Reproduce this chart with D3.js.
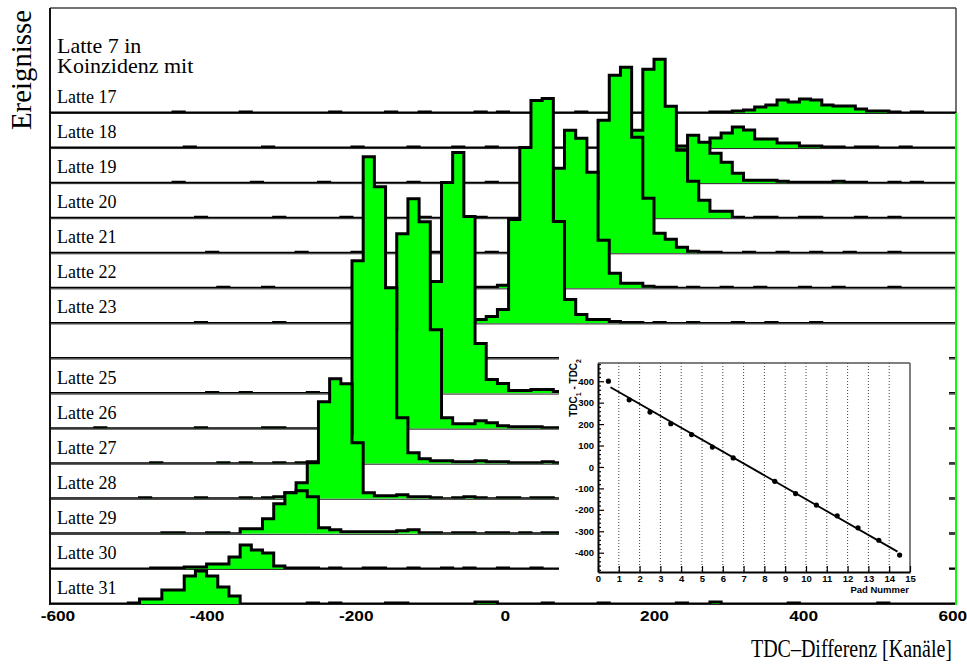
<!DOCTYPE html>
<html>
<head>
<meta charset="utf-8">
<script src="https://cdn.jsdelivr.net/npm/d3@7"></script>
<style>
  body { margin: 0; background: #fff; }
  svg { display: block; }
  .tick-main text { font-family: "Liberation Sans", Arial, sans-serif; font-weight: bold; font-size: 15px; fill: #000; }
  .inset text { font-family: "Liberation Sans", Arial, sans-serif; font-weight: bold; font-size: 9.5px; fill: #000; }
  .serif { font-family: "Liberation Serif", "Times New Roman", serif; fill: #000; }
</style>
</head>
<body>
<svg id="chart" width="967" height="671"></svg>
<script>
// ---- histogram binning (TDC difference, channels) ----
const binStart = -610;
const binWidth = 15;
const binCount = 81;
const xTicks = [-600, -400, -200, 0, 200, 400, 600];

// strips: Latte 7 in coincidence with Latte 17..31 (24 has no entries)
const latten = [17, 18, 19, 20, 21, 22, 23, 24, 25, 26, 27, 28, 29, 30, 31];
const firstBins = [10, 10, 10, 10, 10, 10, 10, 0, 10, 2, 5, 5, 5, 5, 5];

const counts17 = [0,1,0,0,0,0,0,1,0,0, 0,0,0,0,0,1,0,0,0,0, 1,0,0,1,0,0,0,0,
  1,0,1,0,0,0,0,0,0,1,0,0,0,0,0,0,0,0,0,0,0,
  1,1,2,3,6,8,13,11,14,13,8,7,7,4,2,2,1,0,1];
const counts18 = [0,0,1,0,0,0,0,0,0,1, 0,0,0,0,0,0,0,1,0,0, 0,0,1,0,0,0,1,0,0,1, 0,0,0,0,0,0,0,0,0,0, 0,0,0,0,0,
  1,2,3,5,10,15,21,18,9,9,5,5,2,2,1,1,0,1,1,0,0,1];
const counts19 = [0,1,0,0,0,0,0,0,1,0, 0,0,0,0,1,0,0,0,0,0, 0,0,1,0,0,0,0,0,0,1, 0,0,0,0,0,0,0,0,0,0, 0,0,0,
  2,5,12,25,48,41,30,21,10,3,3,3,2,1,1,1,1,2,1,1,0,0,1,0,1];
const counts20 = [0,0,0,1,0,0,0,0,0,0, 1,0,0,0,0,0,1,0,0,0, 0,0,0,1,0,0,0,0,1,0, 0,0,0,0,0,0,0,0,
  3,10,25,55,88,149,159,112,68,37,18,7,7,1,0,1,1,0,0,1,1,0,0,0,1,0,0,1];
const counts21 = [0,0,0,0,1,0,0,0,0,0, 0,0,1,0,0,0,0,1,0,0, 0,0,0,0,1,0,0,0,0,1, 0,0,0,0,0,
  3,8,20,55,133,178,186,116,55,20,14,6,2,1,1,0,0,1,0,0,1,0,0,1,0,0,1,0,0,0,1];
const counts22 = [0,0,0,0,0,1,0,0,0,1, 0,0,0,0,0,0,0,1,0,0, 0,0,0,0,1,0,0,0,
  1,1,3,4,8,18,50,120,158,150,116,48,15,5,5,2,1,1,0,1,0,0,1,0,0,1,0,0,0,1,0,0,1,0,0,0,0,1];
const counts23 = [0,0,0,1,0,0,0,0,0,0, 1,0,0,0,0,0,0,1,0,0, 0,1,0,0,0,0,1,0,
  4,7,14,104,176,223,225,102,24,9,4,4,2,1,1,0,1,0,0,1,0,0,0,1,0,0,1,0,0,0,1,0,0];
const counts24 = [];
const counts25 = [0,0,0,0,1,0,0,1,0,0, 0,0,0,1,0,0,0,0,0,1,
  5,15,30,60,112,211,241,177,50,14,10,3,3,4,4,2,2,2,1,1];
const counts26 = [0,0,1,0,0,0,0,0,0,0, 0,1,0,0,0,0,0,1,1,0, 0,0,0,0,0,
  2,5,25,100,195,230,207,99,11,5,5,8,6,3,2,2,2,1,1,1,1];
const counts27 = [0,0,0,0,1,0,0,0,0,0, 1,0,1,0,0,
  1,0,1,2,3,8,30,203,307,277,176,46,11,5,3,3,2,2,3,2,2,1,1,1,2,1,1,1,1];
const counts28 = [0,0,0,1,0,0,0,0,1,0,0,0,
  1,0,1,2,6,16,36,97,120,115,56,6,3,3,4,2,2,
  1,0,1,2,1,0,1,1,0,1,1,0,1,1,0];
const counts29 = [0,0,0,0,0,1,1,0,0,1,1,0,
  5,5,15,30,41,43,37,6,4,2,2,2,2,2,3,4,1,1,0,1,1,0,1,1,0,1,0,1,1,0,1,0];
const counts30 = [0,0,0,0,1,1,1,2,2,5, 5,12,24,19,16,3,1,1,1,0, 1,0,0,1,1,0,0,1,0,0, 1,0,1,0,0,1,0,0,1,0];
const counts31 = [0,0,1,5,5,14,14,28,33,28, 17,8,0,0,0,0,0,0,1,0, 1,0,0,0,0,1,1,0,0,0,
  0,0,0,2,2,0,0,0,0,1, 0,0,0,0,1,0,0,0,0,0, 0,1,0,0,2,0,0,0,0,0, 0,1,0,0,0,0,0,0,0,1];
const countsByLatte = [counts17, counts18, counts19, counts20, counts21, counts22, counts23,
  counts24, counts25, counts26, counts27, counts28, counts29, counts30, counts31];

// ---- inset: mean TDC difference per pad ----
const padNumbers = [0.5, 1.5, 2.5, 3.5, 4.5, 5.5, 6.5, 8.5, 9.5, 10.5, 11.5, 12.5, 13.5, 14.5];
const tdcDiffs = [400, 313, 256, 202, 151, 93, 42, -67, -124, -178, -228, -284, -342, -411];
const fitPads = [0.6, 14.4];
const fitDiffs = [372, -395];
const insetYTicks = [-400, -300, -200, -100, 0, 100, 200, 300, 400];
const insetXTicks = [0, 1, 2, 3, 4, 5, 6, 7, 8, 9, 10, 11, 12, 13, 14, 15];

const svg = d3.select('#chart');
const defs = svg.append('defs');

const x = d3.scaleLinear().domain([binStart, binStart + binWidth * binCount]).range([50, 956]);
const stripY = d3.scaleLinear().domain([17, 31]).range([113, 604]);
const yCount = d3.scaleLinear().domain([0, 100]).range([0, 100]);
const green = '#00ff00';

function binsFor(first, counts) {
    return d3.range(binCount + 1).map(i => {
        const j = Math.min(i, binCount - 1) - first;
        const n = (j >= 0 && j < counts.length) ? counts[j] : 0;
        return {x: binStart + i * binWidth, n: n};
    });
}

// frame of the top pad
svg.append('line').attr('x1', 50).attr('x2', 956).attr('y1', 8).attr('y2', 8)
    .attr('stroke', '#444').attr('stroke-width', 1.5);
svg.append('line').attr('x1', 956).attr('x2', 956).attr('y1', 8).attr('y2', stripY(17))
    .attr('stroke', '#444').attr('stroke-width', 1.5);
svg.append('line').attr('x1', 50).attr('x2', 50).attr('y1', 8).attr('y2', stripY(31) + 1)
    .attr('stroke', '#111').attr('stroke-width', 2);

// strips, top to bottom (lower pads drawn over upper ones)
latten.forEach((latte, k) => {
    const base = stripY(latte);
    const bins = binsFor(firstBins[k], countsByLatte[k]);

    defs.append('clipPath').attr('id', 'clip' + latte)
        .append('rect').attr('x', 50).attr('y', 0).attr('width', 906).attr('height', base);

    const area = d3.area().curve(d3.curveStepAfter)
        .x(d => x(d.x)).y0(base).y1(d => base - yCount(d.n));
    const line = d3.line().curve(d3.curveStepAfter)
        .x(d => x(d.x)).y(d => base - yCount(d.n));

    const g = svg.append('g').attr('clip-path', `url(#clip${latte})`);
    g.append('path').attr('d', area(bins)).attr('fill', green);
    g.append('path').attr('d', line(bins)).attr('fill', 'none')
        .attr('stroke', '#000').attr('stroke-width', 3);

    svg.append('line').attr('x1', 50).attr('x2', 956)
        .attr('y1', base + 0.5).attr('y2', base + 0.5)
        .attr('stroke', '#222').attr('stroke-width', 1);

    if (countsByLatte[k].length) {
        svg.append('text').attr('class', 'serif')
            .attr('x', 57).attr('y', base - 10)
            .style('font-size', '18px')
            .text('Latte ' + latte);
    }
});

// right pad edge
svg.append('line').attr('x1', 956).attr('x2', 956).attr('y1', stripY(17)).attr('y2', stripY(31) + 1)
    .attr('stroke', green).attr('stroke-width', 2);

svg.append('text').attr('class', 'serif').attr('x', 57).attr('y', 53)
    .style('font-size', '22px').text('Latte 7 in');
svg.append('text').attr('class', 'serif').attr('x', 57).attr('y', 73)
    .style('font-size', '22px').text('Koinzidenz mit');

// ---- inset pad ----
const inset = svg.append('g').attr('class', 'inset');
inset.append('rect').attr('x', 559).attr('y', 340).attr('width', 390).attr('height', 260).attr('fill', '#fff');

const ix = d3.scaleLinear().domain([0, 15]).range([598, 910]);
const iy = d3.scaleLinear().domain([-490, 485]).range([572, 363]);

inset.selectAll('line.grid').data(insetXTicks.slice(1, -1)).join('line')
    .attr('class', 'grid')
    .attr('x1', d => ix(d)).attr('x2', d => ix(d))
    .attr('y1', iy.range()[1]).attr('y2', iy.range()[0])
    .attr('stroke', '#444').attr('stroke-width', 1).attr('stroke-dasharray', '1,2');

inset.append('line').attr('x1', ix(0)).attr('x2', ix(15)).attr('y1', iy.range()[1]).attr('y2', iy.range()[1])
    .attr('stroke', '#555').attr('stroke-width', 1.5);
inset.append('line').attr('x1', ix(15)).attr('x2', ix(15)).attr('y1', iy.range()[1]).attr('y2', iy.range()[0])
    .attr('stroke', '#555').attr('stroke-width', 1.5);

const minorY = d3.range(-480, 481, 20).filter(v => v % 100 !== 0);
inset.append('g').attr('transform', `translate(${ix(0)},0)`)
    .call(d3.axisLeft(iy).tickValues(minorY).tickSize(-3).tickSizeOuter(0).tickFormat(''))
    .call(g => g.select('.domain').remove());
inset.append('g').attr('transform', `translate(${ix(0)},0)`)
    .call(d3.axisLeft(iy).tickValues(insetYTicks).tickSize(-6).tickSizeOuter(0).tickPadding(4)
        .tickFormat(d => String(d)))
    .call(g => g.select('.domain').attr('stroke-width', 2));
inset.append('g').attr('transform', `translate(0,${iy.range()[0]})`)
    .call(d3.axisBottom(ix).tickValues(insetXTicks).tickSize(-6).tickSizeOuter(0).tickPadding(3)
        .tickFormat(d => String(d)))
    .call(g => g.select('.domain').attr('stroke-width', 2));
inset.selectAll('.tick line').attr('stroke-width', 1.2);
inset.selectAll('.tick text').attr('font-family', null).attr('font-size', null);

const fitLine = d3.line().x(d => ix(d[0])).y(d => iy(d[1]));
inset.append('path').attr('d', fitLine(d3.zip(fitPads, fitDiffs)))
    .attr('fill', 'none').attr('stroke', '#000').attr('stroke-width', 1.8);
inset.selectAll('circle').data(d3.zip(padNumbers, tdcDiffs)).join('circle')
    .attr('cx', d => ix(d[0])).attr('cy', d => iy(d[1])).attr('r', 2.6).attr('fill', '#000');

inset.append('text').attr('x', 909).attr('y', 593).attr('text-anchor', 'end').text('Pad Nummer');
const yTitle = inset.append('text').attr('text-anchor', 'end')
    .attr('transform', 'translate(577,359) rotate(-90)').style('font-size', '10px');
yTitle.append('tspan').text('TDC');
yTitle.append('tspan').attr('baseline-shift', 'sub').style('font-size', '7px').text('1');
yTitle.append('tspan').text(' - TDC');
yTitle.append('tspan').attr('baseline-shift', 'sub').style('font-size', '7px').text('2');

// ---- main x axis labels ----
svg.append('g').attr('class', 'tick-main')
    .attr('transform', `translate(0,${stripY(31)})`)
    .call(d3.axisBottom(x).tickValues(xTicks).tickSize(0).tickPadding(6).tickFormat(d => String(d)))
    .call(g => g.select('.domain').remove())
    .call(g => g.selectAll('text').attr('font-family', null).attr('font-size', null)
        .each(function () {
            const w = this.getComputedTextLength();
            d3.select(this).attr('textLength', w * 1.15).attr('lengthAdjust', 'spacingAndGlyphs');
        }));

// axis titles (the original lettering is condensed)
svg.append('text').attr('class', 'serif').attr('text-anchor', 'end')
    .attr('transform', 'translate(952,657) scale(0.8,1)').style('font-size', '25px')
    .text('TDC\u2013Differenz [Kanäle]');
svg.append('text').attr('class', 'serif').attr('text-anchor', 'end')
    .attr('transform', 'translate(31,10) rotate(-90)').style('font-size', '30px')
    .attr('textLength', 120).attr('lengthAdjust', 'spacingAndGlyphs')
    .text('Ereignisse');
</script>
</body>
</html>
